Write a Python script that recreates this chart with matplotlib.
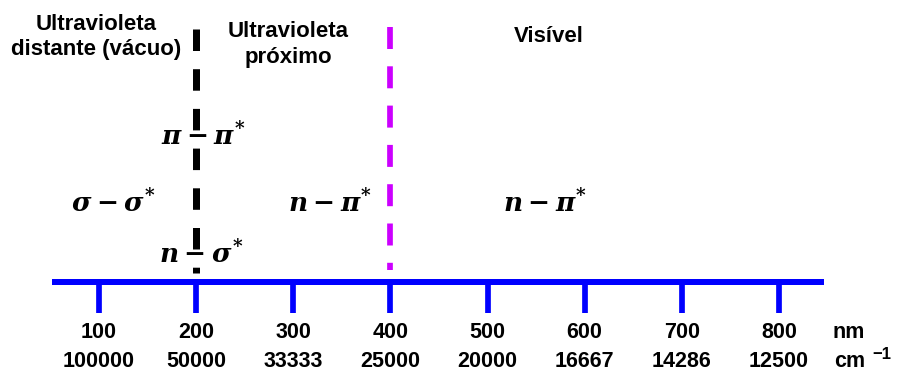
import matplotlib
matplotlib.use("Agg")
import matplotlib.pyplot as plt

# Wavelength scale (nm) with the matching wavenumbers (cm^-1)
wavelengths_nm = [100, 200, 300, 400, 500, 600, 700, 800]
nm_labels = ["100", "200", "300", "400", "500", "600", "700", "800"]
wavenumber_labels = ["100000", "50000", "33333", "25000",
                     "20000", "16667", "14286", "12500"]

# Region boundaries
boundaries_nm = [200, 400]
boundary_colors = ["black", "#cc00ff"]

# Spectral regions and electronic transitions
region_names = ["Ultravioleta\ndistante (vácuo)", "Ultravioleta\npróximo", "Visível"]
transition_labels = [r"$\pi - \pi^{*}$", r"$\sigma - \sigma^{*}$", r"$n - \pi^{*}$",
                     r"$n - \sigma^{*}$", r"$n - \pi^{*}$"]

# ---- layout ----
region_pos = [(97, 30), (295, 37), (563, 42)]   # x centre, first baseline
region_line_step = 25.5
transition_pos = [(207, 136), (115, 203), (338, 203), (205, 254), (559, 203)]

plt.rcParams["font.family"] = ["Liberation Sans", "DejaVu Sans"]
plt.rcParams["font.weight"] = "bold"
plt.rcParams["mathtext.fontset"] = "custom"
plt.rcParams["mathtext.it"] = "DejaVu Serif:italic:bold"
plt.rcParams["mathtext.rm"] = "DejaVu Serif:bold"
plt.rcParams["mathtext.bf"] = "DejaVu Serif:bold"
plt.rcParams["lines.scale_dashes"] = False

fig = plt.figure(figsize=(8.99, 3.72), dpi=100)
ax = fig.add_axes([0, 0, 1, 1])
ax.set_xlim(-1.9, 923.6)
ax.set_ylim(372, 0)
ax.axis("off")

px = 72 / 100  # points per pixel

# axis baseline and ticks
ax.hlines(282, 51.6, 846, color="#0000ff", lw=6 * px, capstyle="butt", zorder=3)
ax.vlines(wavelengths_nm, 282, 313, color="#0000ff", lw=5.7 * px, zorder=3)

for x, a, b in zip(wavelengths_nm, nm_labels, wavenumber_labels):
    ax.text(x, 338, a, ha="center", va="baseline", fontsize=15.5, fontweight="bold")
    ax.text(x, 367, b, ha="center", va="baseline", fontsize=15.5, fontweight="bold")
ax.text(855.6, 338, "nm", ha="left", va="baseline", fontsize=15.5, fontweight="bold")
ax.text(856.6, 367, "cm", ha="left", va="baseline", fontsize=15.5, fontweight="bold")
ax.text(896, 359, "−1", ha="left", va="baseline", fontsize=12, fontweight="bold")

# region boundaries (dashed)
tops = [29, 27]
bottoms = [273, 270]
widths = [7 * px, 5.7 * px]
dashes = [(21.5 * px, 18.2 * px), (22 * px, 17.3 * px)]
for x, c, t, btm, w, d in zip(boundaries_nm, boundary_colors, tops, bottoms, widths, dashes):
    ax.plot([x, x], [t, btm], color=c, lw=w, dashes=d, solid_capstyle="butt",
            dash_capstyle="butt", zorder=4)

for name, (x, y) in zip(region_names, region_pos):
    for i, line in enumerate(name.split("\n")):
        ax.text(x, y + i * region_line_step, line, ha="center", va="baseline",
                fontsize=16, fontweight="bold")

for lab, (x, y) in zip(transition_labels, transition_pos):
    ax.text(x, y, lab, ha="center", va="center", fontsize=19, zorder=2)

fig.savefig("out.png", dpi=100)
